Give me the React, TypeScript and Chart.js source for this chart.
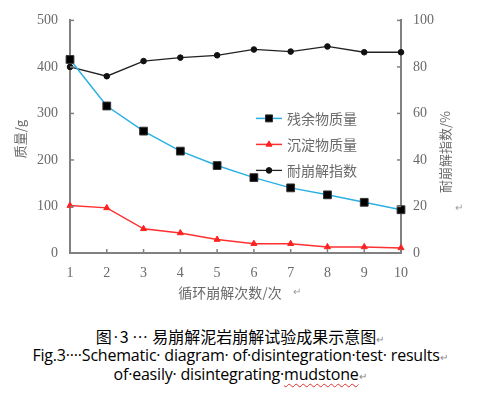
import React, { useEffect, useRef } from 'react';
import { Chart, registerables } from 'chart.js';

Chart.register(...registerables);

const cycles = ['1', '2', '3', '4', '5', '6', '7', '8', '9', '10'];
const residualMass = [416, 316, 262, 219, 188, 162, 140, 125, 109, 93];
const sedimentMass = [102, 97, 52, 43, 29, 20, 20, 13, 13, 11];
const durabilityIndex = [80, 76, 82.5, 84, 85, 87.5, 86.6, 88.8, 86.3, 86.3];
const seriesNames = ['残余物质量', '沉淀物质量', '耐崩解指数'];
const xTitle = '循环崩解次数/次';
const yTitle = '质量/g';
const y2Title = '耐崩解指数/%';
const captionCnA = '图';
const captionCnB = '3';
const captionCnC = '易崩解泥岩崩解试验成果示意图';
const captionEn1 = 'Fig.3····Schematic· diagram· of·disintegration·test· results';
const captionEn2a = 'of·easily· disintegrating·';
const captionEn2b = 'mudstone';

const AXIS = '#808080';
const TXT = '#6a6a6a';
const SERIF = '"Liberation Serif", "DejaVu Serif", serif';
const CJK = '"Noto Sans CJK SC", sans-serif';

function drawMarker(ctx: CanvasRenderingContext2D, style: string, r: number, x: number, y: number) {
  ctx.beginPath();
  if (style === 'rect') {
    const s = Math.SQRT1_2 * r;
    ctx.rect(x - s, y - s, 2 * s, 2 * s);
  } else if (style === 'triangle') {
    const h = r * 1.5;
    ctx.moveTo(x, y - h * 2 / 3);
    ctx.lineTo(x + r * 0.866, y + h / 3);
    ctx.lineTo(x - r * 0.866, y + h / 3);
    ctx.closePath();
  } else {
    ctx.arc(x, y, r, 0, Math.PI * 2);
  }
  ctx.fill();
  ctx.stroke();
}

const decorPlugin = {
  id: 'decor',
  afterDraw(chart: any) {
    const { ctx, chartArea, scales } = chart;
    ctx.save();
    // inward tick marks
    ctx.strokeStyle = AXIS;
    ctx.lineWidth = 1.5;
    const L = 4;
    scales.x.ticks.forEach((_: any, i: number) => {
      const px = scales.x.getPixelForTick(i);
      ctx.beginPath();
      ctx.moveTo(px, chartArea.bottom);
      ctx.lineTo(px, chartArea.bottom - L);
      ctx.stroke();
    });
    scales.y.ticks.forEach((_: any, i: number) => {
      const py = scales.y.getPixelForTick(i);
      ctx.beginPath();
      ctx.moveTo(chartArea.left, py);
      ctx.lineTo(chartArea.left + L, py);
      ctx.stroke();
    });
    scales.y2.ticks.forEach((_: any, i: number) => {
      const py = scales.y2.getPixelForTick(i);
      ctx.beginPath();
      ctx.moveTo(chartArea.right, py);
      ctx.lineTo(chartArea.right - L, py);
      ctx.stroke();
    });

    // axis titles
    ctx.fillStyle = TXT;
    ctx.font = `13px ${CJK}`;
    ctx.textAlign = 'center';
    ctx.textBaseline = 'middle';
    ctx.save();
    ctx.translate(20, 139);
    ctx.rotate(-Math.PI / 2);
    ctx.fillText(yTitle, 0, 0);
    ctx.restore();
    ctx.save();
    ctx.translate(445, 152);
    ctx.rotate(-Math.PI / 2);
    ctx.fillText(y2Title, 0, 0);
    ctx.restore();
    ctx.font = `14px ${CJK}`;
    ctx.fillText(xTitle, 230, 293);
    ctx.font = `10px ${CJK}`;
    ctx.fillStyle = '#999';
    ctx.fillText('↵', 297, 291);
    ctx.fillText('↵', 459, 207);

    // legend
    const lx = chartArea.left + 186;
    const ly = [chartArea.top + 98, chartArea.top + 124, chartArea.top + 150];
    chart.data.datasets.forEach((ds: any, i: number) => {
      const y = ly[i];
      ctx.strokeStyle = ds.borderColor;
      ctx.lineWidth = ds.borderWidth;
      ctx.beginPath();
      ctx.moveTo(lx, y);
      ctx.lineTo(lx + 26, y);
      ctx.stroke();
      ctx.fillStyle = ds.pointBackgroundColor;
      ctx.strokeStyle = ds.pointBorderColor;
      ctx.lineWidth = 1;
      drawMarker(ctx, ds.pointStyle, ds.pointRadius * (ds.pointStyle === 'rect' ? 0.9 : 1), lx + 13, y);
      ctx.fillStyle = TXT;
      ctx.font = `14px ${CJK}`;
      ctx.textAlign = 'left';
      ctx.textBaseline = 'middle';
      ctx.fillText(ds.label, lx + 31, y);
    });
    ctx.restore();
  },
};

export default function App() {
  const ref = useRef<HTMLCanvasElement>(null);
  useEffect(() => {
    if (!ref.current) return;
    const chart = new Chart(ref.current, {
      type: 'line',
      data: {
        labels: cycles,
        datasets: [
          {
            label: seriesNames[0],
            data: residualMass,
            yAxisID: 'y',
            borderColor: '#2bb0e4',
            backgroundColor: '#000000',
            borderWidth: 1.5,
            pointStyle: 'rect',
            pointRadius: 5.5,
            pointBackgroundColor: '#000000',
            pointBorderColor: '#333333',
            pointBorderWidth: 1,
            order: 1,
          },
          {
            label: seriesNames[1],
            data: sedimentMass,
            yAxisID: 'y',
            borderColor: '#ff3030',
            backgroundColor: '#ff2020',
            borderWidth: 1.5,
            pointStyle: 'triangle',
            pointRadius: 3.5,
            pointBackgroundColor: '#ff2020',
            pointBorderColor: '#ff2020',
            pointBorderWidth: 1,
            order: 2,
          },
          {
            label: seriesNames[2],
            data: durabilityIndex,
            yAxisID: 'y2',
            borderColor: '#222222',
            backgroundColor: '#111111',
            borderWidth: 1.3,
            pointStyle: 'circle',
            pointRadius: 2.8,
            pointBackgroundColor: '#111111',
            pointBorderColor: '#111111',
            pointBorderWidth: 1,
            order: 3,
          },
        ],
      },
      options: {
        responsive: false,
        animation: false,
        layout: { padding: { top: 14, left: 0, right: 0, bottom: 0 } },
        plugins: { legend: { display: false }, tooltip: { enabled: false } },
        elements: { line: { tension: 0 } },
        scales: {
          x: {
            type: 'category',
            offset: false,
            grid: { display: true, drawOnChartArea: false, drawTicks: false, color: 'rgba(0,0,0,0)' },
            border: { display: true, color: AXIS, width: 2 },
            ticks: { color: TXT, font: { family: SERIF, size: 14 }, padding: 12, maxRotation: 0, autoSkip: false },
            afterFit: (s: any) => { s.height = 47; },
          },
          y: {
            position: 'left',
            min: 0,
            max: 500,
            grid: { display: true, drawOnChartArea: false, drawTicks: false, color: 'rgba(0,0,0,0)' },
            border: { display: true, color: AXIS, width: 2 },
            ticks: { stepSize: 100, color: TXT, font: { family: SERIF, size: 14 }, padding: 12 },
            afterFit: (s: any) => { s.width = 70; },
          },
          y2: {
            position: 'right',
            min: 0,
            max: 100,
            grid: { display: true, drawOnChartArea: false, drawTicks: false, color: 'rgba(0,0,0,0)' },
            border: { display: true, color: AXIS, width: 2 },
            ticks: { stepSize: 20, color: TXT, font: { family: SERIF, size: 14 }, padding: 12 },
            afterFit: (s: any) => { s.width = 79; },
          },
        },
      } as any,
      plugins: [decorPlugin],
    });
    return () => chart.destroy();
  }, []);

  const capStyle: React.CSSProperties = {
    position: 'absolute',
    left: 0,
    width: 480,
    textAlign: 'center',
    color: '#000',
    fontFamily: '"Noto Sans CJK SC", "Open Sans", sans-serif',
    fontSize: 16,
    lineHeight: '19px',
    whiteSpace: 'nowrap',
  };
  const enStyle: React.CSSProperties = {
    ...capStyle,
    fontFamily: '"Open Sans", "Noto Sans", sans-serif',
    fontSize: 16,
    letterSpacing: -0.2,
  };
  const dot1: React.CSSProperties = { fontFamily: '"Open Sans", sans-serif', margin: '0 2px' };
  const dot3: React.CSSProperties = { fontFamily: '"Open Sans", sans-serif', margin: '0 4px', letterSpacing: 1 };
  const mark = <span style={{ color: '#888', fontSize: 10 }}>↵</span>;

  return (
    <div style={{ position: 'fixed', left: 0, top: 0, width: 480, height: 394, background: '#fff', overflow: 'hidden' }}>
      <canvas ref={ref} width={480} height={300} style={{ position: 'absolute', left: 0, top: 0, width: 480, height: 300 }} />
      <div style={{ ...capStyle, top: 327 }}>
        {captionCnA}<span style={dot1}>·</span>{captionCnB}<span style={dot3}>···</span>{captionCnC}{mark}
      </div>
      <div style={{ ...enStyle, top: 346 }}>{captionEn1}{mark}</div>
      <div style={{ ...enStyle, top: 365 }}>
        {captionEn2a}
        <span style={{ textDecoration: 'underline wavy #e03030', textDecorationThickness: 1, textUnderlineOffset: 3 }}>{captionEn2b}</span>
        {mark}
      </div>
    </div>
  );
}
